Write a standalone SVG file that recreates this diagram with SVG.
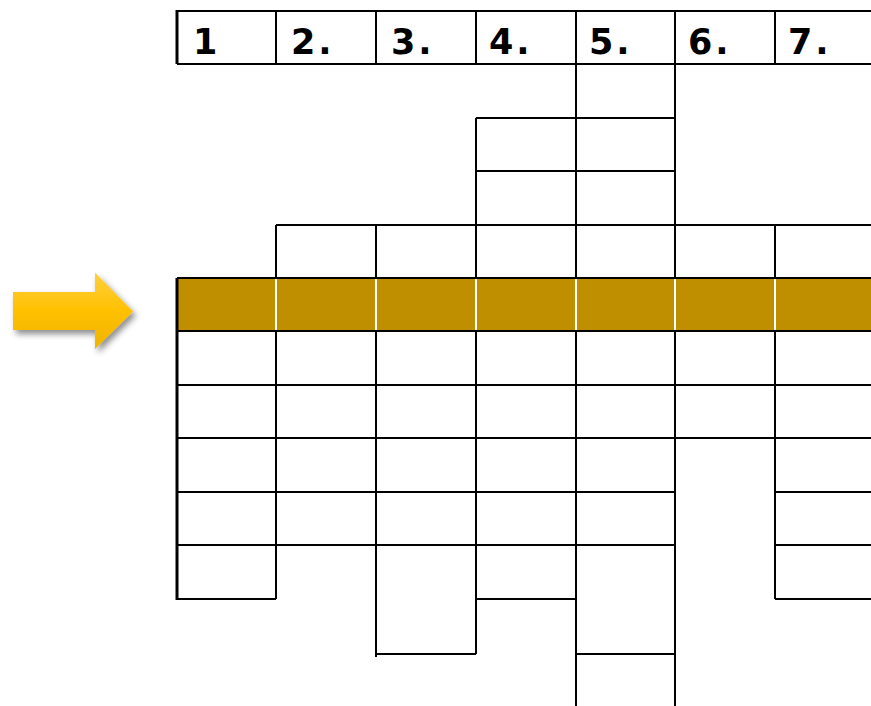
<svg xmlns="http://www.w3.org/2000/svg" width="871" height="706" viewBox="0 0 871 706">
<defs>
<linearGradient id="ag" x1="0" y1="0" x2="0" y2="1">
<stop offset="0" stop-color="#FFD040"/>
<stop offset="0.5" stop-color="#FFC000"/>
<stop offset="1" stop-color="#F0B400"/>
</linearGradient>
<filter id="sh" x="-20%" y="-20%" width="150%" height="150%">
<feDropShadow dx="3" dy="4" stdDeviation="3" flood-color="#000" flood-opacity="0.45"/>
</filter>
</defs>
<style>
.g line{stroke:#000;stroke-width:2;fill:none}
.w line{stroke:#fff;stroke-width:2}
.h{font-family:"DejaVu Sans",sans-serif;font-weight:bold;font-size:35px;letter-spacing:3px;fill:#000}
</style>
<rect x="0" y="0" width="871" height="706" fill="#fff"/>
<g id="highlight-row">
<rect x="177" y="278" width="694" height="53" fill="#BF8F00"/>
</g>
<g id="grid" class="g">
<line x1="177" y1="11" x2="871" y2="11"/>
<line x1="177" y1="64" x2="871" y2="64"/>
<line x1="476" y1="118" x2="675" y2="118"/>
<line x1="476" y1="171" x2="675" y2="171"/>
<line x1="276" y1="225" x2="871" y2="225"/>
<line x1="177" y1="278" x2="871" y2="278"/>
<line x1="177" y1="331" x2="871" y2="331"/>
<line x1="177" y1="385" x2="871" y2="385"/>
<line x1="177" y1="438" x2="871" y2="438"/>
<line x1="177" y1="492" x2="675" y2="492"/>
<line x1="775" y1="492" x2="871" y2="492"/>
<line x1="177" y1="545" x2="675" y2="545"/>
<line x1="775" y1="545" x2="871" y2="545"/>
<line x1="177" y1="599" x2="276" y2="599"/>
<line x1="476" y1="599" x2="576" y2="599"/>
<line x1="775" y1="599" x2="871" y2="599"/>
<line x1="376" y1="654" x2="476" y2="654"/>
<line x1="576" y1="654" x2="675" y2="654"/>
<line x1="177" y1="10" x2="177" y2="64" style="stroke-width:3"/>
<line x1="177" y1="278" x2="177" y2="600" style="stroke-width:3"/>
<line x1="276" y1="11" x2="276" y2="64"/>
<line x1="276" y1="225" x2="276" y2="599"/>
<line x1="376" y1="11" x2="376" y2="64"/>
<line x1="376" y1="225" x2="376" y2="657"/>
<line x1="476" y1="11" x2="476" y2="64"/>
<line x1="476" y1="118" x2="476" y2="654"/>
<line x1="576" y1="11" x2="576" y2="706"/>
<line x1="675" y1="11" x2="675" y2="706"/>
<line x1="775" y1="11" x2="775" y2="64"/>
<line x1="775" y1="225" x2="775" y2="599"/>
</g>
<g id="highlight-dividers" class="w">
<line x1="276" y1="279" x2="276" y2="330"/>
<line x1="376" y1="279" x2="376" y2="330"/>
<line x1="476" y1="279" x2="476" y2="330"/>
<line x1="576" y1="279" x2="576" y2="330"/>
<line x1="675" y1="279" x2="675" y2="330"/>
<line x1="775" y1="279" x2="775" y2="330"/>
</g>
<g id="headers">
<text class="h" x="193" y="54">1</text>
<text class="h" x="291" y="54">2.</text>
<text class="h" x="391" y="54">3.</text>
<text class="h" x="489" y="54">4.</text>
<text class="h" x="589" y="54">5.</text>
<text class="h" x="688" y="54">6.</text>
<text class="h" x="788" y="54">7.</text>
</g>
<g id="arrow">
<path d="M13,292 L95,292 L95,272.5 L133,311.5 L95,349 L95,330 L13,330 Z" fill="url(#ag)" filter="url(#sh)"/>
</g>
</svg>
